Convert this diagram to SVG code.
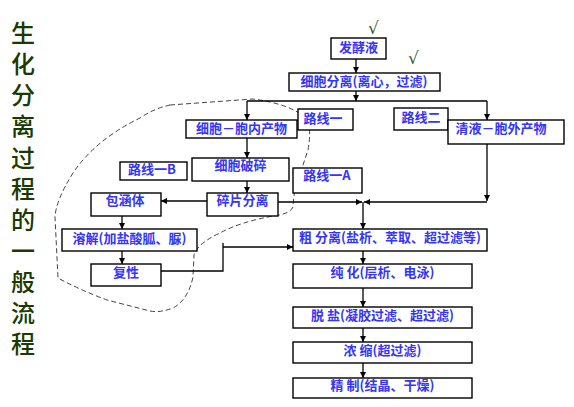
<svg xmlns="http://www.w3.org/2000/svg" width="574" height="407" viewBox="0 0 574 407">
<defs>
<style>
.box{fill:#fff;stroke:#000;stroke-width:1.4}
.lbl{font-family:"Noto Sans CJK SC","Liberation Sans",sans-serif;font-size:13px;font-weight:bold;fill:#3535f5;text-anchor:middle}
.ln{fill:none;stroke:#000;stroke-width:1.3}
.arr{marker-end:url(#ah)}
.title{font-family:"Noto Sans CJK SC",sans-serif;font-size:24px;font-weight:500;fill:#1a3a00;writing-mode:vertical-rl;letter-spacing:7.1px}
.chk{font-family:"DejaVu Sans",sans-serif;font-size:17px;fill:#2e5e2e}
</style>
<marker id="ah" markerWidth="7" markerHeight="7" refX="6" refY="3" orient="auto" markerUnits="userSpaceOnUse">
<path d="M0,0 L6,3 L0,6 Z" fill="#000"/>
</marker>
</defs>
<rect width="574" height="407" fill="#fff"/>

<g id="title">
<text class="title" x="23" y="21">生化分离过程的一般流程</text>
</g>

<g id="checks">
<text class="chk" x="368" y="34">√</text>
<text class="chk" x="408" y="64">√</text>
</g>

<path id="region" d="M170,105 L253,99 Q290,104 306,118 Q312,128 308,150 L303,165 Q294,185 293,207 Q290,214 273,216 Q240,222 220,233 Q198,243 194,255 L193,277 Q188,300 173,308 Q160,313 150,311 L107,300 Q80,290 58,278 L55,217 Q56,200 73,173 Q95,140 140,118 Q155,108 170,105 Z" fill="none" stroke="#444" stroke-width="1" stroke-dasharray="5,3"/>

<g id="connectors">
<path class="ln arr" d="M356,59 V73"/>
<path class="ln arr" d="M356,91 V101"/>
<path class="ln" d="M247,101 H487"/>
<path class="ln arr" d="M247,101 V120"/>
<path class="ln arr" d="M487,101 V120"/>
<path class="ln arr" d="M247,138 V158"/>
<path class="ln arr" d="M247,181 V193"/>
<path class="ln arr" d="M207,201 H161"/>
<path class="ln arr" d="M278,202 H362"/>
<path class="ln arr" d="M487,144 V201"/>
<path class="ln arr" d="M487,202 H364"/>
<path class="ln arr" d="M363,202 V229"/>
<path class="ln arr" d="M122,216 V229"/>
<path class="ln arr" d="M122,251 V264"/>
<path class="ln" d="M161,271 H223 V243"/>
<path class="ln arr" d="M223,247 H293"/>
<path class="ln arr" d="M363,251 V264"/>
<path class="ln arr" d="M363,288 V307"/>
<path class="ln arr" d="M363,328 V342"/>
<path class="ln arr" d="M363,363 V378"/>
</g>

<g id="n-ferment"><rect class="box" x="331" y="38" width="55" height="21"/><text class="lbl" x="358.5" y="52">发酵液</text></g>
<g id="n-cellsep"><rect class="box" x="289" y="73" width="151" height="18"/><text class="lbl" x="364" y="86">细胞分离(离心，过滤)</text></g>
<g id="n-route1"><rect class="box" x="298" y="109" width="55" height="21"/><text class="lbl" x="323" y="123">路线一</text></g>
<g id="n-route2"><rect class="box" x="394" y="108" width="54" height="22"/><text class="lbl" x="421" y="122">路线二</text></g>
<g id="n-intra"><rect class="box" x="186" y="120" width="111" height="18"/><text class="lbl" x="241.5" y="133">细胞－胞内产物</text></g>
<g id="n-extra"><rect class="box" x="448" y="120" width="116" height="24"/><text class="lbl" x="501" y="133">清液－胞外产物</text></g>
<g id="n-break"><rect class="box" x="192" y="158" width="97" height="23"/><text class="lbl" x="240.5" y="170">细胞破碎</text></g>
<g id="n-routeB"><rect class="box" x="120" y="162" width="67" height="18"/><text class="lbl" x="152" y="174">路线一B</text></g>
<g id="n-routeA"><rect class="box" x="293" y="168" width="69" height="25"/><text class="lbl" x="327" y="180">路线一A</text></g>
<g id="n-debris"><rect class="box" x="207" y="193" width="71" height="23"/><text class="lbl" x="242.5" y="205">碎片分离</text></g>
<g id="n-incl"><rect class="box" x="91" y="193" width="70" height="23"/><text class="lbl" x="125" y="205">包涵体</text></g>
<g id="n-dissolve"><rect class="box" x="62" y="229" width="135" height="22"/><text class="lbl" x="129.5" y="243">溶解(加盐酸胍、脲)</text></g>
<g id="n-refold"><rect class="box" x="91" y="264" width="70" height="22"/><text class="lbl" x="126" y="277">复性</text></g>
<g id="n-crude"><rect class="box" x="293" y="229" width="194" height="22"/><text class="lbl" x="390" y="242">粗 分离(盐析、萃取、超过滤等)</text></g>
<g id="n-purify"><rect class="box" x="293" y="264" width="179" height="24"/><text class="lbl" x="382.5" y="277">纯 化(层析、电泳)</text></g>
<g id="n-desalt"><rect class="box" x="293" y="307" width="179" height="21"/><text class="lbl" x="382.5" y="320">脱 盐(凝胶过滤、超过滤)</text></g>
<g id="n-conc"><rect class="box" x="293" y="342" width="179" height="21"/><text class="lbl" x="382.5" y="355">浓 缩(超过滤)</text></g>
<g id="n-refine"><rect class="box" x="293" y="378" width="179" height="20"/><text class="lbl" x="382.5" y="390">精 制(结晶、干燥)</text></g>
</svg>
